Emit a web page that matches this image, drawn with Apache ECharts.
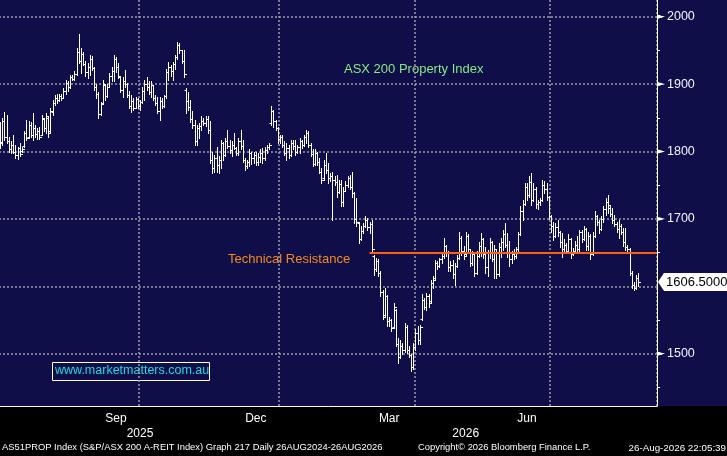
<!DOCTYPE html>
<html>
<head>
<meta charset="utf-8">
<title>AS51PROP Index</title>
<script src="https://cdn.jsdelivr.net/npm/echarts@6/dist/echarts.min.js"></script>
<style>
    html, body { margin: 0; padding: 0; background: #000; }
    #chart { width: 727px; height: 456px; }
</style>
</head>
<body>
<div id="chart"></div>
<script>
// trading calendar (weekdays, ASX holidays removed)
const firstDay = '2025-07-03';
const lastDay = '2026-09-07';
const holidays = ['2025-12-25', '2025-12-26', '2026-01-01', '2026-01-26', '2026-04-03', '2026-04-06', '2026-06-08'];

// daily bars [open, high, low, close]
const jul25 = [
    [1838, 1844, 1805, 1812], [1814, 1850, 1810, 1845], [1845, 1859, 1817, 1822], [1822, 1854, 1812, 1815],
    [1815, 1822, 1800, 1803], [1803, 1815, 1798, 1810], [1810, 1825, 1798, 1800], [1800, 1810, 1790, 1795],
    [1795, 1807, 1789, 1805], [1805, 1812, 1793, 1797], [1801, 1807, 1799, 1804], [1808, 1831, 1807, 1828],
    [1828, 1847, 1817, 1820], [1822, 1845, 1820, 1840], [1840, 1844, 1822, 1825], [1825, 1857, 1817, 1835],
    [1835, 1840, 1822, 1826], [1826, 1835, 1818, 1830], [1830, 1837, 1819, 1822], [1825, 1854, 1824, 1850],
    [1848, 1850, 1830, 1835]
];
const aug25 = [
    [1835, 1857, 1827, 1852], [1850, 1852, 1822, 1828], [1830, 1865, 1828, 1860], [1858, 1877, 1854, 1872],
    [1872, 1884, 1869, 1880], [1880, 1886, 1872, 1876], [1876, 1885, 1875, 1882], [1882, 1885, 1877, 1879],
    [1880, 1894, 1879, 1890], [1890, 1906, 1886, 1902], [1902, 1905, 1890, 1895], [1896, 1914, 1894, 1910],
    [1910, 1914, 1906, 1908], [1908, 1920, 1906, 1915], [1915, 1953, 1914, 1948], [1948, 1975, 1931, 1935],
    [1935, 1953, 1916, 1945], [1945, 1948, 1928, 1930], [1930, 1935, 1912, 1918], [1918, 1931, 1909, 1925],
    [1925, 1943, 1914, 1938]
];
const sep25 = [
    [1938, 1941, 1921, 1924], [1924, 1926, 1891, 1895], [1895, 1900, 1880, 1885], [1885, 1889, 1849, 1855],
    [1856, 1874, 1854, 1870], [1872, 1906, 1870, 1900], [1898, 1899, 1877, 1882], [1882, 1900, 1881, 1895],
    [1896, 1916, 1895, 1912], [1912, 1925, 1905, 1920], [1920, 1943, 1904, 1938], [1938, 1940, 1918, 1925],
    [1925, 1931, 1909, 1912], [1910, 1912, 1889, 1892], [1892, 1911, 1881, 1905], [1905, 1921, 1896, 1900],
    [1900, 1901, 1881, 1884], [1884, 1890, 1865, 1868], [1868, 1884, 1859, 1875], [1875, 1879, 1862, 1865],
    [1865, 1881, 1864, 1878], [1878, 1880, 1865, 1868]
];
const oct25 = [
    [1868, 1877, 1862, 1874], [1874, 1895, 1872, 1890], [1890, 1906, 1877, 1900], [1900, 1911, 1891, 1895],
    [1895, 1905, 1885, 1888], [1888, 1904, 1881, 1898], [1898, 1899, 1877, 1880], [1880, 1884, 1869, 1872],
    [1872, 1881, 1857, 1860], [1860, 1881, 1847, 1875], [1875, 1880, 1865, 1868], [1868, 1884, 1866, 1882],
    [1882, 1923, 1880, 1918], [1918, 1933, 1906, 1925], [1925, 1928, 1912, 1920], [1920, 1933, 1906, 1930],
    [1930, 1943, 1923, 1940], [1940, 1963, 1938, 1958], [1958, 1961, 1946, 1950], [1950, 1951, 1931, 1935],
    [1935, 1951, 1911, 1915], [1892, 1894, 1857, 1875], [1875, 1889, 1862, 1866]
];
const nov25 = [
    [1866, 1877, 1844, 1848], [1848, 1860, 1835, 1840], [1840, 1847, 1810, 1815], [1815, 1840, 1810, 1835],
    [1835, 1842, 1820, 1838], [1838, 1852, 1832, 1845], [1845, 1849, 1840, 1842], [1842, 1852, 1838, 1848],
    [1848, 1852, 1827, 1832], [1832, 1845, 1783, 1788], [1788, 1800, 1768, 1775], [1775, 1795, 1770, 1790],
    [1790, 1807, 1770, 1780], [1780, 1793, 1768, 1788], [1788, 1817, 1775, 1812], [1812, 1814, 1788, 1795],
    [1795, 1820, 1793, 1815], [1815, 1832, 1805, 1808], [1808, 1817, 1798, 1802], [1802, 1815, 1793, 1810]
];
const dec25 = [
    [1810, 1827, 1803, 1805], [1805, 1807, 1795, 1798], [1798, 1820, 1795, 1815], [1815, 1832, 1803, 1808],
    [1808, 1817, 1785, 1788], [1788, 1790, 1773, 1778], [1778, 1788, 1775, 1785], [1785, 1803, 1778, 1798],
    [1798, 1799, 1782, 1790], [1790, 1800, 1783, 1795], [1795, 1800, 1780, 1785], [1785, 1798, 1780, 1792],
    [1792, 1803, 1785, 1798], [1798, 1805, 1783, 1790], [1790, 1807, 1788, 1802], [1802, 1810, 1798, 1806],
    [1806, 1812, 1803, 1810], [1842, 1867, 1840, 1860], [1860, 1862, 1837, 1845], [1845, 1847, 1832, 1835],
    [1835, 1837, 1812, 1818]
];
const jan26 = [
    [1818, 1825, 1812, 1822], [1822, 1824, 1807, 1810], [1810, 1815, 1795, 1798], [1798, 1812, 1788, 1805],
    [1805, 1810, 1790, 1795], [1795, 1817, 1793, 1812], [1812, 1817, 1803, 1808], [1808, 1817, 1795, 1800],
    [1800, 1810, 1798, 1806], [1806, 1820, 1798, 1815], [1815, 1817, 1805, 1810], [1810, 1825, 1808, 1822],
    [1822, 1832, 1812, 1828], [1828, 1830, 1807, 1810], [1810, 1812, 1793, 1796], [1796, 1803, 1778, 1782],
    [1782, 1803, 1780, 1798], [1798, 1800, 1780, 1785], [1785, 1790, 1768, 1770], [1770, 1775, 1753, 1758]
];
const feb26 = [
    [1760, 1788, 1758, 1780], [1780, 1798, 1768, 1772], [1772, 1783, 1753, 1760], [1760, 1768, 1756, 1764],
    [1764, 1770, 1699, 1758], [1758, 1763, 1750, 1755], [1755, 1765, 1733, 1740], [1740, 1758, 1738, 1752],
    [1752, 1758, 1719, 1725], [1725, 1748, 1719, 1742], [1742, 1756, 1741, 1750], [1750, 1763, 1748, 1760],
    [1760, 1765, 1745, 1748], [1748, 1770, 1733, 1738], [1738, 1740, 1694, 1700], [1700, 1731, 1689, 1695],
    [1694, 1696, 1664, 1670], [1670, 1689, 1668, 1682], [1682, 1694, 1679, 1690], [1690, 1704, 1688, 1698]
];
const mar26 = [
    [1698, 1701, 1684, 1688], [1688, 1696, 1679, 1692], [1692, 1699, 1649, 1655], [1645, 1647, 1617, 1625],
    [1625, 1642, 1622, 1638], [1638, 1640, 1615, 1620], [1620, 1622, 1585, 1592], [1592, 1595, 1551, 1555],
    [1558, 1597, 1555, 1585], [1585, 1587, 1541, 1548], [1548, 1555, 1541, 1550], [1550, 1552, 1533, 1538],
    [1540, 1575, 1538, 1570], [1565, 1567, 1511, 1515], [1515, 1523, 1486, 1495], [1495, 1520, 1493, 1512],
    [1512, 1516, 1499, 1505], [1505, 1545, 1503, 1540], [1540, 1542, 1501, 1505], [1505, 1511, 1495, 1498],
    [1498, 1500, 1474, 1480], [1480, 1516, 1478, 1510]
];
const apr26 = [
    [1510, 1536, 1506, 1530], [1530, 1541, 1514, 1520], [1520, 1543, 1514, 1540], [1552, 1588, 1550, 1580],
    [1580, 1582, 1566, 1570], [1570, 1590, 1565, 1585], [1585, 1588, 1570, 1575], [1578, 1610, 1575, 1605],
    [1605, 1615, 1598, 1610], [1612, 1639, 1610, 1635], [1635, 1637, 1625, 1630], [1630, 1642, 1628, 1640],
    [1640, 1650, 1635, 1645], [1645, 1672, 1642, 1660], [1660, 1662, 1645, 1650], [1650, 1652, 1622, 1628],
    [1628, 1637, 1622, 1632], [1632, 1639, 1612, 1618], [1618, 1635, 1602, 1630], [1630, 1647, 1628, 1642]
];
const may26 = [
    [1642, 1681, 1640, 1672], [1672, 1674, 1647, 1652], [1652, 1660, 1640, 1645], [1648, 1681, 1645, 1675],
    [1675, 1677, 1649, 1655], [1655, 1656, 1630, 1635], [1635, 1652, 1632, 1648], [1648, 1650, 1615, 1620],
    [1620, 1652, 1618, 1645], [1645, 1665, 1643, 1660], [1660, 1679, 1645, 1670], [1670, 1672, 1642, 1648],
    [1648, 1659, 1620, 1628], [1628, 1654, 1615, 1650], [1650, 1672, 1642, 1665], [1665, 1667, 1637, 1640],
    [1640, 1662, 1612, 1655], [1655, 1656, 1612, 1618], [1618, 1664, 1615, 1658], [1658, 1672, 1644, 1665],
    [1665, 1684, 1654, 1678]
];
const jun26 = [
    [1678, 1694, 1659, 1662], [1662, 1679, 1644, 1650], [1650, 1667, 1630, 1640], [1640, 1652, 1635, 1648],
    [1648, 1655, 1640, 1645], [1645, 1659, 1642, 1655], [1655, 1681, 1652, 1678], [1678, 1719, 1676, 1712],
    [1712, 1728, 1699, 1722], [1722, 1753, 1720, 1748], [1748, 1753, 1728, 1735], [1735, 1763, 1733, 1755],
    [1755, 1768, 1721, 1728], [1728, 1753, 1726, 1745], [1745, 1747, 1716, 1722], [1722, 1728, 1714, 1725],
    [1725, 1731, 1720, 1728], [1728, 1758, 1726, 1750], [1750, 1756, 1738, 1745], [1745, 1753, 1728, 1732],
    [1732, 1734, 1700, 1705]
];
const jul26 = [
    [1705, 1706, 1681, 1690], [1690, 1696, 1669, 1675], [1675, 1694, 1673, 1688], [1688, 1699, 1674, 1680],
    [1680, 1682, 1659, 1665], [1665, 1679, 1644, 1655], [1655, 1670, 1650, 1662], [1662, 1664, 1649, 1652],
    [1652, 1677, 1650, 1670], [1670, 1672, 1642, 1648], [1648, 1657, 1646, 1652], [1652, 1667, 1650, 1662],
    [1662, 1674, 1649, 1655], [1655, 1684, 1653, 1680], [1680, 1684, 1665, 1670], [1670, 1689, 1668, 1685],
    [1685, 1687, 1654, 1660], [1660, 1681, 1654, 1675], [1675, 1677, 1640, 1648], [1648, 1680, 1646, 1675],
    [1675, 1711, 1673, 1705], [1705, 1706, 1691, 1695], [1695, 1699, 1679, 1685]
];
const aug26 = [
    [1685, 1704, 1683, 1700], [1700, 1719, 1696, 1715], [1715, 1731, 1706, 1725], [1725, 1736, 1709, 1720],
    [1716, 1719, 1704, 1708], [1708, 1716, 1694, 1698], [1698, 1706, 1689, 1692], [1692, 1696, 1681, 1685],
    [1685, 1699, 1672, 1690], [1690, 1692, 1677, 1680], [1680, 1686, 1660, 1665], [1665, 1686, 1654, 1658],
    [1658, 1662, 1652, 1655], [1655, 1657, 1617, 1620], [1620, 1622, 1598, 1602], [1602, 1607, 1595, 1598],
    [1598, 1617, 1596, 1612], [1612, 1620, 1600, 1606.5]
];

const lastClose = 1606.5;
const resistance = 1650;
const resistanceFrom = '2026-03-03';

// axes
const yMin = 1422.4;
const yMax = 2024.8;
const yGrid = [1500, 1600, 1700, 1800, 1900, 2000];
const yLabels = [1500, 1700, 1800, 1900, 2000];
const yTicks = [1450, 1550, 1650, 1750, 1850, 1950];
const quarterStarts = ['2025-10-01', '2026-01-02', '2026-04-01', '2026-07-01'];
const monthLabels = { '2025-09-16': 'Sep', '2025-12-15': 'Dec', '2026-03-16': 'Mar', '2026-06-16': 'Jun' };
const yearLabels = { '2025-10-01': '2025', '2026-05-06': '2026' };
const yearSplit = '2025-12-31';

const dates = [];
for (let t = Date.parse(firstDay); t <= Date.parse(lastDay); t += 86400000) {
    const d = new Date(t);
    const s = d.toISOString().slice(0, 10);
    if (d.getUTCDay() % 6 !== 0 && holidays.indexOf(s) < 0) dates.push(s);
}

const bars = [].concat(jul25, aug25, sep25, oct25, nov25, dec25, jan26, feb26, mar26, apr26, may26, jun26, jul26, aug26);
const ohlc = bars.map((b, i) => [dates[i], b[0], b[1], b[2], b[3]]);

function renderOhlc(params, api) {
    const i = api.value(0);
    const pO = api.coord([i, api.value(1)]);
    const pH = api.coord([i, api.value(2)]);
    const pL = api.coord([i, api.value(3)]);
    const pC = api.coord([i, api.value(4)]);
    const x = Math.round(pO[0]) + 0.5;
    const yO = Math.round(pO[1]) + 0.5;
    const yC = Math.round(pC[1]) + 0.5;
    const st = { stroke: '#ffffff', lineWidth: 1 };
    return {
        type: 'group',
        children: [
            { type: 'line', shape: { x1: x, y1: Math.round(pH[1]), x2: x, y2: Math.round(pL[1]) + 1 }, style: st },
            { type: 'line', shape: { x1: x - 2, y1: yO, x2: x, y2: yO }, style: st },
            { type: 'line', shape: { x1: x, y1: yC, x2: x + 2.5, y2: yC }, style: st }
        ]
    };
}

// white pointer shapes drawn on small canvases
function pointer(w, h, dir) {
    const c = document.createElement('canvas');
    c.width = w * 2;
    c.height = h * 2;
    const ctx = c.getContext('2d');
    ctx.fillStyle = '#ffffff';
    ctx.beginPath();
    if (dir === 'left') {
        ctx.moveTo(w * 2, 0);
        ctx.lineTo(0, h);
        ctx.lineTo(w * 2, h * 2);
    } else {
        ctx.moveTo(0, h * 0.55);
        ctx.lineTo(w * 2, h);
        ctx.lineTo(0, h * 1.45);
    }
    ctx.closePath();
    ctx.fill();
    return c;
}
const notch = pointer(6, 18, 'left');
const flag = pointer(8, 10, 'right');

const font = '"Liberation Sans", Arial, sans-serif';

const chart = echarts.init(document.getElementById('chart'));
chart.setOption({
    animation: false,
    backgroundColor: '#000000',
    textStyle: { fontFamily: font },
    grid: { left: -1, right: 70, top: 0, bottom: 50, outerBoundsMode: 'none' },
    xAxis: [{
        type: 'category',
        data: dates,
        boundaryGap: true,
        axisLine: { lineStyle: { color: '#ffffff', width: 1 } },
        axisTick: {
            length: 4,
            lineStyle: { color: '#ffffff' },
            interval: (i, v) => i > 0 && v.slice(5, 7) !== dates[i - 1].slice(5, 7)
        },
        axisLabel: {
            interval: (i, v) => v in monthLabels,
            formatter: v => monthLabels[v] || '',
            color: '#ffffff',
            fontSize: 12,
            margin: 7
        },
        splitLine: {
            show: true,
            interval: (i, v) => quarterStarts.indexOf(v) >= 0,
            lineStyle: { color: '#9a9aa6', type: [2, 2], width: 1.5 }
        }
    }, {
        type: 'category',
        data: dates,
        position: 'bottom',
        offset: 18,
        axisLine: { show: false },
        axisTick: {
            alignWithLabel: true,
            length: 16,
            lineStyle: { color: '#8a8a8a' },
            interval: (i, v) => v === yearSplit
        },
        axisLabel: {
            interval: (i, v) => v in yearLabels,
            formatter: v => yearLabels[v] || '',
            color: '#ffffff',
            fontSize: 12,
            margin: 4
        },
        splitLine: { show: false }
    }],
    yAxis: [{
        type: 'value',
        position: 'right',
        min: yMin,
        max: yMax,
        axisLine: { show: true, lineStyle: { color: '#ffffff', width: 1 } },
        axisTick: { show: true, customValues: yTicks, length: 3, lineStyle: { color: '#ffffff' } },
        axisLabel: {
            customValues: yLabels,
            margin: 0,
            formatter: v => '{t| }{v|' + v + '}',
            rich: {
                t: { width: 8, height: 10, fontSize: 1, backgroundColor: { image: flag } },
                v: { fontSize: 12.5, color: '#f2f4ff', fontFamily: font, padding: [0, 0, 0, 2] }
            }
        },
        splitLine: { show: false }
    }, {
        type: 'value',
        position: 'right',
        min: yMin,
        max: yMax,
        axisLine: { show: false },
        axisTick: { show: false },
        axisLabel: {
            customValues: [lastClose],
            margin: 1,
            formatter: v => '{n| }{p|' + v.toFixed(4) + '}',
            rich: {
                n: { width: 6, height: 18, fontSize: 1, backgroundColor: { image: notch } },
                p: { backgroundColor: '#ffffff', color: '#000000', fontSize: 13, height: 18, lineHeight: 18, padding: [0, 6, 0, 2], fontFamily: font }
            }
        },
        splitLine: { show: false }
    }],
    graphic: [
        { type: 'rect', z: -10, shape: { x: 0, y: 0, width: 727, height: 406 }, style: { fill: '#100e48' }, silent: true },
        { type: 'text', left: 344, top: 63, style: { text: 'ASX 200 Property Index', fill: '#86e886', font: '13px ' + font } },
        { type: 'text', left: 228, top: 253, style: { text: 'Technical Resistance', fill: '#f5891f', font: '13px ' + font } },
        { type: 'rect', shape: { x: 52.5, y: 362.5, width: 157, height: 18 }, style: { fill: 'none', stroke: '#ffffff', lineWidth: 1 } },
        { type: 'text', left: 55, top: 364, style: { text: 'www.marketmatters.com.au', fill: '#22dbe3', font: '12.5px ' + font } },
        { type: 'text', left: 2, top: 443, style: { text: 'AS51PROP Index (S&P/ASX 200 A-REIT Index) Graph 217 Daily 26AUG2024-26AUG2026', fill: '#ffffff', font: '9.4px ' + font } },
        { type: 'text', left: 418, top: 443, style: { text: 'Copyright\u00a9 2026 Bloomberg Finance L.P.', fill: '#ffffff', font: '9.4px ' + font } },
        { type: 'text', right: 1, top: 443, style: { text: '26-Aug-2026 22:05:39', fill: '#ffffff', font: '9.8px ' + font } }
    ],
    series: [{
        type: 'custom',
        name: 'AS51PROP',
        renderItem: renderOhlc,
        data: ohlc,
        encode: { x: 0, y: [1, 2, 3, 4] },
        z: 3,
        markLine: {
            z: 1,
            silent: true,
            symbol: 'none',
            label: { show: false },
            lineStyle: { color: '#9a9aa6', type: [2, 2], width: 1.5 },
            data: yGrid.map(v => ({ yAxis: v }))
        }
    }, {
        type: 'line',
        name: 'Technical Resistance',
        data: [],
        symbol: 'none',
        markLine: {
            z: 4,
            silent: true,
            symbol: 'none',
            label: { show: false },
            lineStyle: { color: '#ff5f0f', width: 2, type: 'solid' },
            data: []
        }
    }]
});

// resistance runs from its start date to the price axis
const resY = chart.convertToPixel({ yAxisIndex: 0 }, resistance);
const plotRect = chart.getModel().getComponent('grid', 0).coordinateSystem.getRect();
chart.setOption({
    series: [{}, {
        markLine: {
            data: [[
                { coord: [resistanceFrom, resistance] },
                { x: plotRect.x + plotRect.width, y: resY }
            ]]
        }
    }]
});
</script>
</body>
</html>
